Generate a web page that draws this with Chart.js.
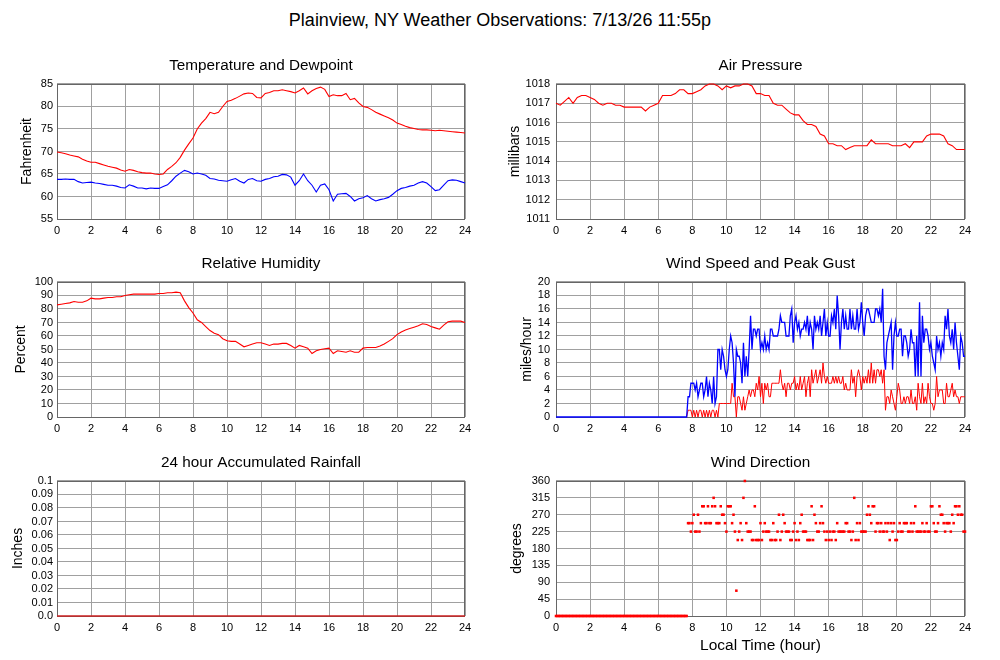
<!DOCTYPE html>
<html>
<head>
<meta charset="utf-8">
<title>Plainview, NY Weather Observations</title>
<script src="https://cdn.jsdelivr.net/npm/chart.js@4.4.1/dist/chart.umd.min.js"></script>
<style>
  html, body { margin: 0; padding: 0; background: #fff; }
  #page { position: relative; width: 1000px; height: 660px; font-family: "Liberation Sans", Arial, sans-serif; }
  #main-title { position: absolute; left: 0; top: 9px; width: 1000px; text-align: center; font-size: 18px; line-height: 22px; color: #000; }
  canvas { position: absolute; }
</style>
</head>
<body>
<div id="page">
  <div id="main-title">Plainview, NY Weather Observations: 7/13/26 11:55p</div>
  <canvas id="tempChart" width="480" height="193" style="left:0px;top:50px;width:480px;height:193px"></canvas>
  <canvas id="pressChart" width="480" height="193" style="left:498px;top:50px;width:480px;height:193px"></canvas>
  <canvas id="rhChart" width="480" height="193" style="left:0px;top:248px;width:480px;height:193px"></canvas>
  <canvas id="windChart" width="480" height="193" style="left:498px;top:248px;width:480px;height:193px"></canvas>
  <canvas id="rainChart" width="480" height="193" style="left:0px;top:447px;width:480px;height:193px"></canvas>
  <canvas id="dirChart" width="480" height="213" style="left:498px;top:447px;width:480px;height:213px"></canvas>
</div>
<script>
// ---- data (15 minute readings from midnight) ----
const tempF = [
  69.9, 69.7, 69.5, 69.2,  69.0, 68.8, 68.3, 67.9,  67.6, 67.6, 67.3, 67.0,
  66.7, 66.5, 66.3, 65.9,  65.6, 66.0, 65.8, 65.5,  65.3, 65.2, 65.2, 65.0,
  64.9, 65.0, 66.0, 66.7,  67.5, 68.7, 70.3, 71.7,  73.0, 75.0, 76.3, 77.3,
  78.7, 78.4, 78.7, 80.0,  81.1, 81.4, 81.8, 82.3,  82.8, 83.0, 82.9, 82.0,
  81.9, 82.9, 83.1, 83.5,  83.5, 83.7, 83.5, 83.3,  83.0, 83.5, 84.1, 82.8,
  83.5, 84.0, 84.3, 83.8,  82.2, 82.6, 82.4, 82.4,  82.9, 81.5, 81.8, 80.8,
  80.0, 79.8, 79.3, 78.7,  78.3, 77.9, 77.5, 77.0,  76.3, 76.0, 75.6, 75.3,
  75.1, 74.9, 74.8, 74.8,  74.7, 74.6, 74.7, 74.6,  74.5, 74.4, 74.3, 74.2,
  74.1
];
const dewpointF = [
  63.8, 63.8, 63.9, 63.8,  63.8, 63.3, 63.0, 63.1,  63.2, 63.0, 62.9, 62.7,
  62.5, 62.5, 62.3, 62.0,  61.9, 62.6, 62.3, 61.9,  61.9, 61.7, 61.9, 61.8,
  61.8, 62.2, 62.6, 63.5,  64.5, 65.2, 65.8, 65.5,  65.0, 65.2, 65.0, 64.7,
  64.0, 63.9, 63.6, 63.5,  63.4, 63.7, 64.0, 63.4,  63.0, 63.8, 64.0, 63.5,
  63.4, 63.8, 64.0, 64.4,  64.5, 64.9, 64.8, 64.3,  62.5, 63.5, 65.0, 63.5,
  62.5, 61.0, 62.5, 62.8,  61.5, 59.0, 60.5, 60.6,  60.7, 60.0, 59.0, 59.5,
  59.7, 60.2, 59.5, 59.0,  59.3, 59.5, 59.8, 60.5,  61.3, 61.8, 62.0, 62.3,
  62.5, 63.0, 63.3, 63.0,  62.2, 61.3, 61.5, 62.5,  63.5, 63.7, 63.6, 63.3,
  63.0
];
const pressureMb = [
  1017.0, 1016.9, 1017.1, 1017.3,  1017.0, 1017.3, 1017.4, 1017.4,  1017.3, 1017.2, 1017.0, 1016.9,
  1017.0, 1017.0, 1016.9, 1016.9,  1016.8, 1016.8, 1016.8, 1016.8,  1016.8, 1016.6, 1016.8, 1016.9,
  1017.0, 1017.4, 1017.4, 1017.4,  1017.5, 1017.7, 1017.7, 1017.5,  1017.5, 1017.6, 1017.7, 1017.9,
  1018.0, 1018.0, 1017.9, 1017.7,  1017.9, 1017.8, 1017.9, 1017.9,  1018.0, 1018.0, 1017.9, 1017.5,
  1017.5, 1017.4, 1017.4, 1017.0,  1016.9, 1016.9, 1016.7, 1016.5,  1016.4, 1016.4, 1016.1, 1015.9,
  1015.9, 1015.8, 1015.4, 1015.3,  1014.9, 1014.9, 1014.8, 1014.8,  1014.6, 1014.7, 1014.8, 1014.8,
  1014.8, 1014.8, 1015.1, 1014.9,  1014.9, 1014.9, 1014.9, 1014.8,  1014.8, 1014.8, 1014.9, 1014.7,
  1015.0, 1015.0, 1015.0, 1015.3,  1015.4, 1015.4, 1015.4, 1015.3,  1014.9, 1014.8, 1014.6, 1014.6,
  1014.6
];
const humidityPct = [
  83, 83.5, 84, 84.5,  85.5, 85, 85, 86,  88, 87.5, 87.5, 88,
  88.5, 88.5, 89, 89,  90, 90.5, 91, 91,  91, 91, 91, 91,
  91.5, 91.5, 92, 92,  92.5, 92, 86, 81,  77, 72, 70, 67,
  64, 62, 61, 58,  56.5, 56, 56, 54,  52, 53, 54, 55,
  55, 54, 53, 54,  54, 54.5, 54.5, 53,  51, 53, 52, 51,
  47, 49, 50, 50.5,  51, 47, 49, 48.5,  48, 49, 48, 48,
  51, 51.5, 51.5, 51.5,  52.5, 54, 56, 58,  61, 63, 64.5, 65.5,
  66.5, 67.5, 69, 68.5,  67, 66, 65, 68,  70.5, 71, 71, 71,
  70
];
const rainInches = [0, 0, 0, 0, 0, 0, 0, 0, 0, 0, 0, 0, 0, 0, 0, 0, 0, 0, 0, 0, 0, 0, 0, 0, 0];

// ---- wind: 5 minute readings starting 7:40 (calm before) ----
const windStartHour = 7 + 8 / 12;
const windGustMph = [
  0, 3, 3, 5,
  5, 5, 4, 5, 3, 4, 5, 5, 3, 4, 6, 3,
  5, 4, 2, 6, 2, 3, 10, 10, 7, 10, 9, 7,
  6, 7, 10, 12, 11, 8, 3, 10, 9, 9, 8, 5,
  11, 6, 9, 6, 10, 15, 10, 13, 13, 12, 13, 13,
  10, 11, 10, 12, 10, 11, 10, 13, 13, 12, 12, 12,
  12, 13, 15, 14, 14, 14, 12, 12, 12, 15, 16, 11,
  14, 15, 13, 14, 12, 13, 13, 14, 13, 15, 12, 14,
  13, 10, 15, 13, 14, 13, 15, 12, 14, 16, 12, 14,
  12, 12, 15, 14, 16, 13, 18, 15, 10, 14, 16, 13,
  15, 13, 13, 16, 13, 15, 13, 13, 16, 13, 14, 17,
  14, 12, 15, 16, 16, 15, 14, 14, 14, 16, 16, 15,
  16, 14, 19, 9, 7, 11, 12, 13, 14, 7, 12, 14,
  12, 12, 13, 13, 9, 12, 12, 11, 9, 10, 13, 11,
  11, 6, 12, 6, 17, 6, 15, 11, 13, 13, 12, 10,
  11, 9, 8, 7, 12, 10, 11, 9, 11, 10, 15, 13,
  16, 12, 11, 13, 10, 14, 11, 9, 7, 12, 11, 9,
  9
];
const windSpeedMph = [
  0, 1, 1, 1,
  0, 1, 0, 1, 0, 1, 1, 0, 1, 0, 1, 0,
  1, 0, 1, 1, 0, 1, 0, 2, 2, 2, 2, 2,
  2, 2, 2, 2, 5, 3, 3, 0, 3, 3, 2, 1,
  3, 1, 2, 3, 4, 3, 4, 4, 3, 5, 4, 6,
  3, 5, 2, 5, 4, 5, 3, 3, 5, 5, 5, 5,
  5, 5, 7, 5, 4, 5, 3, 5, 5, 4, 5, 5,
  6, 4, 5, 4, 6, 4, 5, 6, 3, 5, 6, 3,
  7, 5, 6, 7, 5, 6, 7, 5, 8, 6, 5, 6,
  5, 5, 5, 6, 5, 6, 5, 6, 5, 5, 6, 4,
  5, 4, 4, 4, 7, 5, 6, 3, 6, 7, 6, 4,
  6, 5, 6, 5, 7, 5, 8, 5, 7, 5, 7, 7,
  6, 7, 5, 7, 1, 3, 3, 2, 4, 3, 2, 1,
  3, 5, 4, 2, 2, 3, 2, 3, 3, 2, 4, 2,
  2, 3, 1, 5, 3, 2, 5, 2, 3, 2, 5, 3,
  2, 2, 1, 2, 6, 3, 4, 4, 4, 2, 2, 5,
  3, 3, 4, 5, 3, 4, 3, 3, 2, 3, 3, 3,
  3
];

// ---- wind direction: 5 minute readings from midnight (0 = calm) ----
const windDirDeg = [
  0, 0, 0, 0, 0, 0, 0, 0, 0, 0, 0, 0,
  0, 0, 0, 0, 0, 0, 0, 0, 0, 0, 0, 0,
  0, 0, 0, 0, 0, 0, 0, 0, 0, 0, 0, 0,
  0, 0, 0, 0, 0, 0, 0, 0, 0, 0, 0, 0,
  0, 0, 0, 0, 0, 0, 0, 0, 0, 0, 0, 0,
  0, 0, 0, 0, 0, 0, 0, 0, 0, 0, 0, 0,
  0, 0, 0, 0, 0, 0, 0, 0, 0, 0, 0, 0,
  0, 0, 0, 0, 0, 0, 0, 0, 0, 247.5, 247.5, 225,
  247.5, 270, 225, 225, 270, 225, 247.5, 292.5, 292.5, 247.5, 247.5, 292.5,
  247.5, 247.5, 292.5, 315, 292.5, 247.5, 247.5, 247.5, 292.5, 270, 270, 247.5,
  225, 292.5, 292.5, 292.5, 247.5, 270, 225, 67.5, 202.5, 225, 247.5, 202.5,
  315, 360, 247.5, 225, 225, 225, 202.5, 202.5, 292.5, 202.5, 202.5, 202.5,
  247.5, 202.5, 225, 247.5, 225, 225, 225, 202.5, 202.5, 247.5, 202.5, 202.5,
  225, 270, 202.5, 225, 270, 247.5, 225, 225, 225, 202.5, 202.5, 225,
  247.5, 202.5, 225, 202.5, 247.5, 270, 225, 225, 225, 202.5, 202.5, 202.5,
  292.5, 202.5, 270, 247.5, 225, 225, 247.5, 292.5, 247.5, 225, 202.5, 225,
  202.5, 225, 202.5, 225, 225, 202.5, 247.5, 225, 225, 225, 225, 225,
  247.5, 247.5, 225, 225, 202.5, 225, 315, 202.5, 247.5, 202.5, 247.5, 225,
  225, 225, 225, 270, 292.5, 270, 247.5, 292.5, 292.5, 225, 247.5, 247.5,
  225, 247.5, 225, 225, 247.5, 225, 247.5, 202.5, 247.5, 225, 247.5, 202.5,
  202.5, 225, 247.5, 225, 225, 247.5, 247.5, 247.5, 225, 225, 247.5, 225,
  247.5, 292.5, 225, 225, 225, 225, 247.5, 225, 225, 247.5, 225, 225,
  292.5, 292.5, 247.5, 225, 225, 247.5, 292.5, 270, 270, 247.5, 225, 247.5,
  247.5, 247.5, 225, 270, 247.5, 292.5, 292.5, 270, 292.5, 270, 270, 225,
  225
];

const FONT = '"Liberation Sans", Arial, Helvetica, sans-serif';
const GRID = '#a0a0a0';

// x/y pairs from a list of readings
const series = (vals, start, step) => vals.map((v, i) => ({ x: start + i * step, y: v }));
const calm = [{ x: 0, y: 0 }];

const frame = {
  id: 'frame',
  beforeDatasetsDraw(chart) {
    const { ctx, chartArea: a } = chart;
    ctx.save();
    ctx.strokeStyle = '#666';
    ctx.lineWidth = 1;
    ctx.strokeRect(Math.round(a.left) + 0.5, Math.round(a.top) + 0.5,
      Math.round(a.right - a.left) - 1, Math.round(a.bottom - a.top));
    ctx.restore();
  }
};

function panel(id, p) {
  const rightSide = p.right;
  return new Chart(document.getElementById(id), {
    type: p.type || 'line',
    data: { datasets: p.datasets },
    plugins: [frame],
    options: {
      responsive: false,
      animation: false,
      layout: { padding: { left: 0, top: 0, bottom: 0, right: rightSide ? 13 : 15 } },
      plugins: {
        legend: { display: false },
        tooltip: { enabled: false },
        title: {
          display: true,
          text: p.title,
          fullSize: false,
          color: '#000',
          font: { family: FONT, size: 15.3, weight: 'normal' },
          padding: { top: 6.1, bottom: 9.5 }
        }
      },
      elements: { line: { tension: 0 } },
      scales: {
        x: {
          type: 'linear', min: 0, max: 24,
          ticks: { stepSize: 2, padding: 5, color: '#000', maxRotation: 0, autoSkip: false,
                   font: { family: FONT, size: 11 } },
          grid: { color: GRID, drawTicks: false },
          border: { display: false },
          title: p.xTitle ? {
            display: true, text: p.xTitle, color: '#000',
            font: { family: FONT, size: 15.5 }, padding: { top: 0, bottom: 4.7 }
          } : { display: false },
          afterFit: s => { s.height = p.xTitle ? 44 : 24; }
        },
        y: {
          min: p.yMin, max: p.yMax,
          ticks: { stepSize: p.yStep, padding: rightSide ? 6 : 4, color: '#000', autoSkip: false,
                   font: { family: FONT, size: 11 }, callback: p.yFormat || (v => v) },
          grid: { color: GRID, drawTicks: false },
          border: { display: false },
          title: { display: true, text: p.yTitle, color: '#000',
                   font: { family: FONT, size: 14 }, padding: { top: p.yTitlePad, bottom: 0 } },
          afterFit: s => { s.width = rightSide ? 58 : 57; }
        }
      }
    }
  });
}

const lineSet = (data, color, width) => ({
  data, borderColor: color, borderWidth: width || 1.1, pointRadius: 0, fill: false, clip: false
});

panel('tempChart', {
  title: 'Temperature and Dewpoint', yTitle: 'Fahrenheit',
  yMin: 55, yMax: 85, yStep: 5, yTitlePad: 18.9,
  datasets: [
    lineSet(series(tempF, 0, 0.25), '#ff0000'),
    lineSet(series(dewpointF, 0, 0.25), '#0000ff')
  ]
});

panel('pressChart', {
  right: true,
  title: 'Air Pressure', yTitle: 'millibars',
  yMin: 1011, yMax: 1018, yStep: 1, yTitlePad: 8.9,
  datasets: [lineSet(series(pressureMb, 0, 0.25), '#ff0000')]
});

panel('rhChart', {
  title: 'Relative Humidity', yTitle: 'Percent',
  yMin: 0, yMax: 100, yStep: 10, yTitlePad: 13.1,
  datasets: [lineSet(series(humidityPct, 0, 0.25), '#ff0000')]
});

panel('windChart', {
  right: true,
  title: 'Wind Speed and Peak Gust', yTitle: 'miles/hour',
  yMin: 0, yMax: 20, yStep: 2, yTitlePad: 20.3,
  datasets: [
    Object.assign(lineSet(calm.concat(series(windGustMph, windStartHour, 1 / 12)), '#0000ff', 1.3), { order: 0 }),
    Object.assign(lineSet(series(windSpeedMph, windStartHour, 1 / 12), '#ff0000', 1), { order: 1 })
  ]
});

panel('rainChart', {
  title: '24 hour Accumulated Rainfall', yTitle: 'Inches',
  yMin: 0, yMax: 0.1, yStep: 0.01, yTitlePad: 9.3,
  yFormat: v => (Math.abs(v) < 1e-9 ? '0.0' : Math.abs(v - 0.1) < 1e-9 ? '0.1' : v.toFixed(2)),
  datasets: [lineSet(series(rainInches, 0, 1), '#cc2222', 1.6)]
});

panel('dirChart', {
  right: true, type: 'scatter',
  title: 'Wind Direction', yTitle: 'degrees', xTitle: 'Local Time (hour)',
  yMin: 0, yMax: 360, yStep: 45, yTitlePad: 10.3,
  datasets: [{
    data: series(windDirDeg, 0, 1 / 12),
    showLine: false, clip: false,
    pointStyle: 'rect', pointRadius: 1.8, pointBorderWidth: 0,
    pointBackgroundColor: '#ff0000', pointBorderColor: '#ff0000'
  }]
});
</script>
</body>
</html>
